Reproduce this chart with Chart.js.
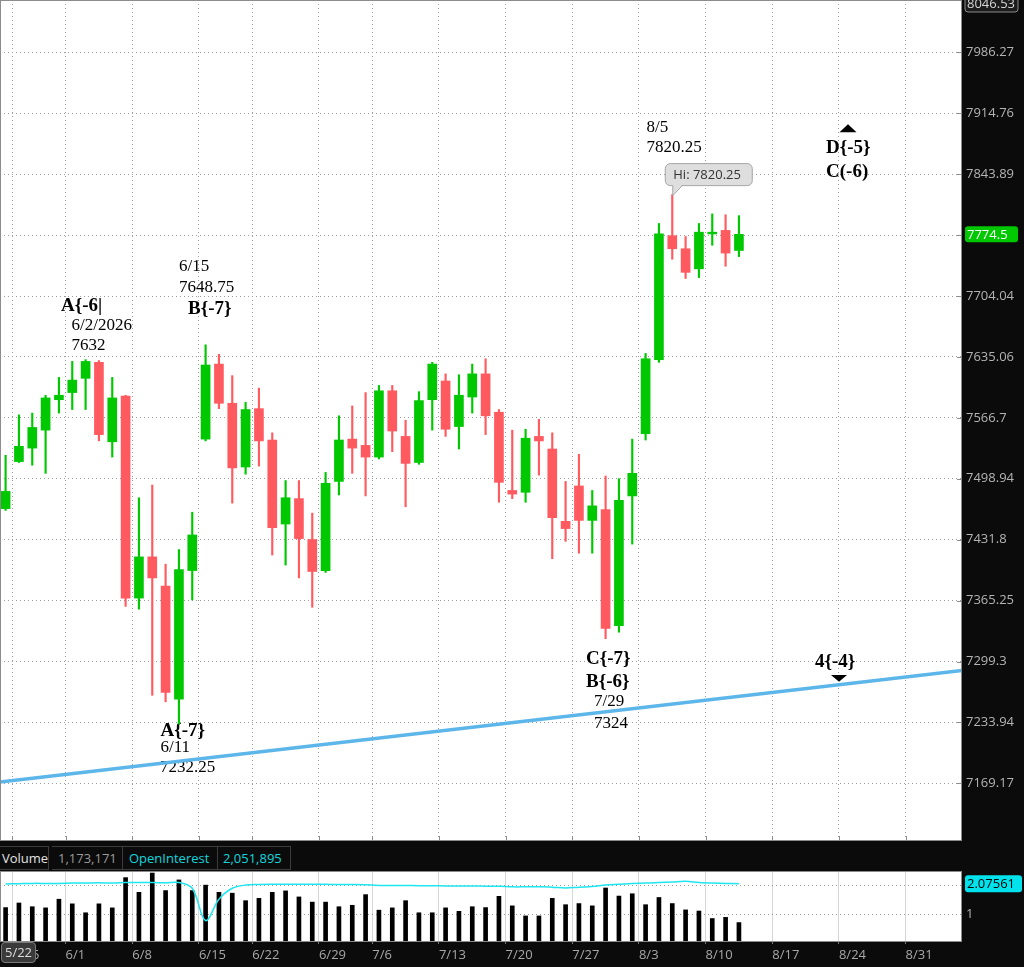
<!DOCTYPE html>
<html>
<head>
<meta charset="utf-8">
<title>Daily futures chart</title>
<script src="https://cdn.jsdelivr.net/npm/chart.js@4.4.1/dist/chart.umd.min.js"></script>
<style>
  body { margin: 0; width: 1024px; height: 967px; overflow: hidden; position: relative; background: #0b0b0b; font-family: 'Open Sans', sans-serif; }
  canvas { position: absolute; left: 0; }
  #price-chart { top: 0; }
  #volume-chart { top: 870px; }
  .study-cell { position: absolute; top: 846px; height: 22px; line-height: 22px; font-size: 13px; border: 1px solid #3c3c3c; border-left: none; padding-left: 6px; box-sizing: content-box; white-space: nowrap; }
  #cursor-date { position: absolute; left: 1px; top: 942px; width: 33px; height: 19px; line-height: 19px; text-align: center; font-size: 13px; color: #dcdcdc; background: #3a3a3a; border: 1px solid #7a7a7a; border-radius: 4px; }
</style>
</head>
<body>
<canvas id="price-chart" width="1024" height="846"></canvas>
<div class="study-cell" style="left:0; width:46px; padding-left:2px; color:#e4e4e4;">Volume</div>
<div class="study-cell" style="left:52px; width:64px; color:#9a9a9a;">1,173,171</div>
<div class="study-cell" style="left:123px; width:88px; color:#12d6de;">OpenInterest</div>
<div class="study-cell" style="left:217px; width:67px; color:#12d6de;">2,051,895</div>
<canvas id="volume-chart" width="1024" height="97"></canvas>
<div id="cursor-date">5/22</div>
<script>
'use strict';

// CHART DATA

let barDates = ['5/22', '5/26', '5/27', '5/28', '5/29', '6/1', '6/2', '6/3', '6/4', '6/5',
  '6/8', '6/9', '6/10', '6/11', '6/12', '6/15', '6/16', '6/17', '6/18', '6/22',
  '6/23', '6/24', '6/25', '6/26', '6/29', '6/30', '7/1', '7/2', '7/6', '7/7',
  '7/8', '7/9', '7/10', '7/13', '7/14', '7/15', '7/16', '7/17', '7/20', '7/21',
  '7/22', '7/23', '7/24', '7/27', '7/28', '7/29', '7/30', '7/31', '8/3', '8/4',
  '8/5', '8/6', '8/7', '8/10', '8/11', '8/12'];

let opens = [7466, 7518, 7533, 7553, 7587, 7595, 7611, 7629, 7540, 7591,
  7368, 7413, 7381, 7259, 7398, 7543, 7627, 7583, 7512, 7577,
  7542, 7449, 7477, 7432, 7398, 7496, 7543, 7536, 7523, 7597,
  7546, 7517, 7587, 7608, 7557, 7590, 7616, 7573, 7486, 7484,
  7546, 7532, 7452, 7491, 7453, 7465, 7338, 7480, 7549, 7632,
  7773, 7758, 7735, 7775, 7779, 7756];

let highs = [7525, 7570, 7572, 7592, 7612, 7630, 7632, 7631, 7612, 7592,
  7478, 7492, 7405, 7421, 7462, 7648.75, 7638, 7614, 7584, 7600,
  7550, 7497, 7497, 7461, 7506, 7569, 7580, 7595, 7603, 7603,
  7564, 7596, 7629, 7616, 7615, 7627, 7633, 7576, 7553, 7554,
  7565, 7550, 7496, 7526, 7486, 7502, 7499, 7543, 7639, 7787,
  7820.25, 7772, 7787, 7798, 7797, 7796];

let lows = [7464, 7517, 7514, 7505, 7572, 7576, 7576, 7541, 7523, 7359,
  7356, 7263, 7256, 7232.25, 7366, 7541, 7577, 7472, 7504, 7513,
  7415, 7404, 7390, 7358, 7396, 7481, 7505, 7480, 7521, 7529,
  7468, 7515, 7553, 7546, 7532, 7572, 7548, 7473, 7477, 7473,
  7503, 7411, 7430, 7417, 7417, 7324, 7331, 7427, 7542, 7629,
  7746, 7724, 7725, 7762, 7738, 7749];

let closes = [7485, 7535, 7556, 7589, 7592, 7609, 7630, 7548, 7589, 7368,
  7413, 7390, 7266, 7399, 7437, 7626, 7583, 7511, 7576, 7541,
  7445, 7478, 7433, 7397, 7494, 7542, 7533, 7523, 7597, 7552,
  7516, 7586, 7627, 7554, 7592, 7616, 7569, 7495, 7482, 7544,
  7541, 7456, 7444, 7453, 7469, 7335, 7475, 7505, 7633, 7775,
  7758, 7731, 7777, 7777, 7753, 7774.5];

// volume and open interest, in millions of contracts
let volumes = [1.25, 1.41, 1.28, 1.24, 1.54, 1.38, 1.07, 1.38, 1.24, 2.29,
  1.78, 2.45, 1.84, 2.21, 1.84, 2.03, 1.78, 1.75, 1.49, 1.57,
  1.78, 1.83, 1.62, 1.44, 1.44, 1.28, 1.33, 1.70, 1.16, 1.24,
  1.49, 1.07, 1.07, 1.24, 1.12, 1.28, 1.25, 1.64, 1.31, 0.96,
  0.96, 1.57, 1.35, 1.39, 1.31, 1.93, 1.65, 1.73, 1.35, 1.60,
  1.39, 1.17, 1.13, 0.87, 0.91, 0.73];

let openInterest = [2.07, 2.08, 2.09, 2.09, 2.09, 2.10, 2.10, 2.11, 2.10, 2.12,
  2.12, 2.12, 2.11, 2.12, 1.92, 0.80, 1.54, 1.92, 2.03, 2.05,
  2.06, 2.06, 2.06, 2.06, 2.06, 2.05, 2.05, 2.04, 2.02, 2.02,
  2.02, 2.01, 2.01, 2.00, 2.00, 2.00, 1.99, 1.99, 1.97, 1.97,
  1.97, 1.96, 1.93, 1.96, 1.98, 2.03, 2.06, 2.09, 2.10, 2.12,
  2.14, 2.16, 2.12, 2.10, 2.09, 2.07561];

// first bar of each week (future weeks continue the count)
let weekStartBars = [1, 5, 10, 15, 19, 24, 28, 33, 38, 43, 48, 53, 58, 63, 68];
let weekLabels = ['5/25', '6/1', '6/8', '6/15', '6/22', '6/29', '7/6', '7/13', '7/20', '7/27', '8/3', '8/10', '8/17', '8/24', '8/31'];

let priceTicks = [7169.17, 7233.94, 7299.3, 7365.25, 7431.8, 7498.94, 7566.7, 7635.06, 7704.04, 7773.65, 7843.89, 7914.76, 7986.27];
let priceTickLabels = ['7169.17', '7233.94', '7299.3', '7365.25', '7431.8', '7498.94', '7566.7', '7635.06', '7704.04', '', '7843.89', '7914.76', '7986.27'];
let topPriceLabel = '8046.53';
let volumeTicks = [1, 2];
let volumeTickLabels = ['1', '2'];

let trendBars = [-0.42, 71.73];
let trendPrices = [7170.5, 7289.6];

// AXIS RANGES

let barMin = -0.42;
let barMax = 71.73;
let priceMin = 7109.5;
let priceMax = 8048.2;
let volumeMin = 0.09;
let volumeMax = 2.52;

// COLOURS AND FONTS

let upColor = '#00c800';
let downColor = '#ff5a5f';
let gridColor = '#9c9c9c';
let axisText = '#b4b4b4';
let serif = '"Liberation Serif", "Times New Roman", serif';

Chart.defaults.font.family = '"Open Sans", sans-serif';
Chart.defaults.font.size = 13;

// ANNOTATIONS

let notes = [
  { text: 'A{-6|', x: 61, y: 311, bold: true },
  { text: '6/2/2026', x: 71.5, y: 330 },
  { text: '7632', x: 71.5, y: 350 },
  { text: '6/15', x: 179, y: 271 },
  { text: '7648.75', x: 179, y: 291.5 },
  { text: 'B{-7}', x: 188, y: 314, bold: true },
  { text: '8/5', x: 646.5, y: 131.5 },
  { text: '7820.25', x: 646.5, y: 151.5 },
  { text: 'D{-5}', x: 826, y: 152.5, bold: true },
  { text: 'C(-6)', x: 826, y: 176.5, bold: true },
  { text: 'C{-7}', x: 586, y: 663.5, bold: true },
  { text: 'B{-6}', x: 586, y: 686.5, bold: true },
  { text: '7/29', x: 594, y: 706 },
  { text: '7324', x: 594, y: 728 },
  { text: 'A{-7}', x: 160.5, y: 736, bold: true },
  { text: '6/11', x: 160.5, y: 751.5 },
  { text: '7232.25', x: 160, y: 771.5 },
  { text: '4{-4}', x: 815, y: 666.5, bold: true }
];
let markers = [
  { x: 848, tip: 124.3, base: 132.3, half: 8.5 },
  { x: 839, tip: 681.7, base: 675, half: 8 }
];

// HELPER FUNCTIONS

function barColor(i) {
  return closes[i] >= opens[i] ? upColor : downColor;
}

function weekBoundaries() {
  return weekStartBars.map(b => ({ value: b - 0.5 }));
}

function paintPanel(chart) {
  let ctx = chart.ctx;
  let a = chart.chartArea;
  ctx.save();
  ctx.fillStyle = '#0b0b0b';
  ctx.fillRect(0, 0, chart.width, chart.height);
  ctx.fillStyle = '#ffffff';
  ctx.fillRect(a.left, a.top, a.right - a.left, a.bottom - a.top);
  ctx.restore();
}

function drawFrame(chart) {
  let ctx = chart.ctx;
  let a = chart.chartArea;
  ctx.save();
  ctx.strokeStyle = '#8c8c8c';
  ctx.lineWidth = 1;
  ctx.strokeRect(a.left + 0.5, a.top + 0.5, a.right - a.left - 1, a.bottom - a.top);
  ctx.restore();
}

function priceBox(ctx, text, y, fill, stroke, color) {
  ctx.beginPath();
  ctx.roundRect(965, y - 8, 53, 16, 3);
  ctx.fillStyle = fill;
  ctx.fill();
  if (stroke) {
    ctx.strokeStyle = stroke;
    ctx.stroke();
  }
  ctx.fillStyle = color;
  ctx.font = '13px "Open Sans", sans-serif';
  ctx.textBaseline = 'middle';
  ctx.textAlign = 'left';
  ctx.fillText(text, 967, y + 0.5);
}

// PLUGINS

let priceDecor = {
  id: 'priceDecor',
  beforeDraw(chart) {
    paintPanel(chart);
  },
  beforeDatasetsDraw(chart) {
    let ctx = chart.ctx;
    ctx.save();
    ctx.fillStyle = '#000000';
    ctx.textBaseline = 'alphabetic';
    ctx.textAlign = 'left';
    for (let i = 0; i < notes.length; i++) {
      let n = notes[i];
      ctx.font = n.bold ? 'bold 19px ' + serif : '17px ' + serif;
      ctx.fillText(n.text, n.x, n.y);
    }
    for (let i = 0; i < markers.length; i++) {
      let m = markers[i];
      ctx.beginPath();
      ctx.moveTo(m.x, m.tip);
      ctx.lineTo(m.x - m.half, m.base);
      ctx.lineTo(m.x + m.half, m.base);
      ctx.closePath();
      ctx.fill();
    }
    ctx.restore();
  },
  afterDatasetsDraw(chart) {
    // high bubble on the 8/5 bar
    let ctx = chart.ctx;
    let hiBar = highs.indexOf(Math.max(...highs));
    let ax = chart.scales.x.getPixelForValue(hiBar);
    let ay = chart.scales.y.getPixelForValue(highs[hiBar]);
    let left = ax - 7;
    let top = ay - 31;
    let bottom = ay - 9;
    ctx.save();
    ctx.beginPath();
    ctx.roundRect(left, top, 87, bottom - top, 5);
    ctx.fillStyle = '#dedede';
    ctx.fill();
    ctx.strokeStyle = '#a6a6a6';
    ctx.lineWidth = 1;
    ctx.stroke();
    ctx.beginPath();
    ctx.moveTo(ax + 0.5, bottom - 1);
    ctx.lineTo(ax + 0.5, ay + 1);
    ctx.lineTo(ax + 10, bottom - 1);
    ctx.fillStyle = '#dedede';
    ctx.fill();
    ctx.beginPath();
    ctx.moveTo(ax + 0.5, bottom);
    ctx.lineTo(ax + 0.5, ay + 1);
    ctx.lineTo(ax + 10, bottom);
    ctx.strokeStyle = '#a6a6a6';
    ctx.stroke();
    ctx.fillStyle = '#333333';
    ctx.font = '13px "Open Sans", sans-serif';
    ctx.textBaseline = 'middle';
    ctx.fillText('Hi: ' + highs[hiBar].toFixed(2), ax + 1, (top + bottom) / 2 + 0.5);
    ctx.restore();
  },
  afterDraw(chart) {
    let ctx = chart.ctx;
    let a = chart.chartArea;
    drawFrame(chart);
    ctx.save();
    ctx.strokeStyle = '#8c8c8c';
    ctx.lineWidth = 1;
    chart.scales.y.ticks.forEach(t => {
      let y = Math.round(chart.scales.y.getPixelForValue(t.value)) + 0.5;
      ctx.beginPath();
      ctx.moveTo(a.right - 5, y);
      ctx.lineTo(a.right, y);
      ctx.stroke();
    });
    chart.scales.x.ticks.forEach(t => {
      let x = Math.round(chart.scales.x.getPixelForValue(t.value)) + 0.5;
      ctx.beginPath();
      ctx.moveTo(x, a.bottom - 4);
      ctx.lineTo(x, a.bottom);
      ctx.stroke();
    });
    priceBox(ctx, topPriceLabel, 4, '#1c1c1c', '#8a8a8a', '#d4d4d4');
    let last = closes.length - 1;
    let lastY = chart.scales.y.getPixelForValue(closes[last]);
    priceBox(ctx, String(closes[last]), lastY, upColor, null, '#ffffff');
    ctx.restore();
  }
};

let volumeDecor = {
  id: 'volumeDecor',
  beforeDraw(chart) {
    paintPanel(chart);
  },
  afterDraw(chart) {
    let ctx = chart.ctx;
    drawFrame(chart);
    ctx.save();
    let last = openInterest.length - 1;
    let y = chart.scales.y.getPixelForValue(openInterest[last]);
    ctx.beginPath();
    ctx.roundRect(965, y - 8.5, 57, 17, 3);
    ctx.fillStyle = '#00e3ec';
    ctx.fill();
    ctx.fillStyle = '#000000';
    ctx.font = '13px "Open Sans", sans-serif';
    ctx.textBaseline = 'middle';
    ctx.fillText(openInterest[last].toFixed(5), 967, y + 0.5);
    ctx.restore();
  }
};

// PRICE CHART

let candleWicks = barDates.map((d, i) => ({ x: i, y: [lows[i], highs[i]] }));
let candleBodies = barDates.map((d, i) => ({ x: i, y: [opens[i], closes[i]] }));

let priceCtx = document.getElementById('price-chart').getContext('2d');

new Chart(priceCtx, {
  type: 'bar',
  data: {
    datasets: [{
      type: 'line',
      label: 'Trend',
      data: trendBars.map((b, i) => ({ x: b, y: trendPrices[i] })),
      borderColor: '#5cb6ea',
      borderWidth: 3.5,
      pointRadius: 0
    },
    {
      label: 'Body',
      data: candleBodies,
      backgroundColor: barDates.map((d, i) => barColor(i)),
      barThickness: 9,
      grouped: false
    },
    {
      label: 'Wick',
      data: candleWicks,
      backgroundColor: barDates.map((d, i) => barColor(i)),
      barThickness: 1.5,
      grouped: false
    }]
  },
  options: {
    responsive: false,
    animation: false,
    devicePixelRatio: 1,
    events: [],
    layout: { padding: { top: 0, bottom: 6, left: 0, right: 0 } },
    plugins: {
      legend: { display: false },
      tooltip: { enabled: false }
    },
    scales: {
      x: {
        type: 'linear',
        min: barMin,
        max: barMax,
        offset: false,
        grid: { color: gridColor, offset: false, drawTicks: false },
        border: { display: false, dash: [1, 3] },
        ticks: { display: false },
        afterBuildTicks: s => { s.ticks = weekBoundaries(); },
        afterFit: s => { s.height = 0; s.paddingLeft = 0; s.paddingRight = 0; }
      },
      y: {
        type: 'logarithmic',
        position: 'right',
        min: priceMin,
        max: priceMax,
        bounds: 'data',
        grid: { color: gridColor, drawTicks: false },
        border: { display: false, dash: [1, 3] },
        ticks: {
          color: axisText,
          padding: 4,
          autoSkip: false,
          callback: (v, i) => priceTickLabels[i]
        },
        afterBuildTicks: s => { s.ticks = priceTicks.map(v => ({ value: v })); },
        afterFit: s => { s.width = 62; s.paddingTop = 0; s.paddingBottom = 0; }
      }
    }
  },
  plugins: [priceDecor]
});

// VOLUME CHART

let volumeCtx = document.getElementById('volume-chart').getContext('2d');

new Chart(volumeCtx, {
  type: 'bar',
  data: {
    datasets: [{
      type: 'line',
      label: 'OpenInterest',
      data: barDates.map((d, i) => ({ x: i, y: openInterest[i] })),
      borderColor: '#1ee6ee',
      borderWidth: 1.5,
      pointRadius: 0,
      tension: 0.35
    },
    {
      label: 'Volume',
      data: barDates.map((d, i) => ({ x: i, y: volumes[i] })),
      backgroundColor: '#000000',
      barThickness: 4
    }]
  },
  options: {
    responsive: false,
    animation: false,
    devicePixelRatio: 1,
    events: [],
    layout: { padding: { top: 1, bottom: 0, left: 0, right: 0 } },
    plugins: {
      legend: { display: false },
      tooltip: { enabled: false }
    },
    scales: {
      x: {
        type: 'linear',
        min: barMin,
        max: barMax,
        offset: false,
        grid: { color: '#d6d6d6', offset: false, tickLength: 3, tickColor: '#777777' },
        border: { display: false },
        ticks: {
          color: '#a8a8a8',
          align: 'start',
          padding: 3,
          autoSkip: false,
          maxRotation: 0,
          callback: (v, i) => weekLabels[i]
        },
        afterBuildTicks: s => { s.ticks = weekBoundaries(); },
        afterFit: s => { s.height = 26; s.paddingLeft = 0; s.paddingRight = 0; }
      },
      y: {
        type: 'linear',
        position: 'right',
        min: volumeMin,
        max: volumeMax,
        grid: { color: gridColor, drawTicks: false },
        border: { display: false, dash: [1, 3] },
        ticks: {
          color: axisText,
          padding: 4,
          autoSkip: false,
          callback: (v, i) => volumeTickLabels[i]
        },
        afterBuildTicks: s => { s.ticks = volumeTicks.map(v => ({ value: v })); },
        afterFit: s => { s.width = 62; s.paddingTop = 0; s.paddingBottom = 0; }
      }
    }
  },
  plugins: [volumeDecor]
});
</script>
</body>
</html>
